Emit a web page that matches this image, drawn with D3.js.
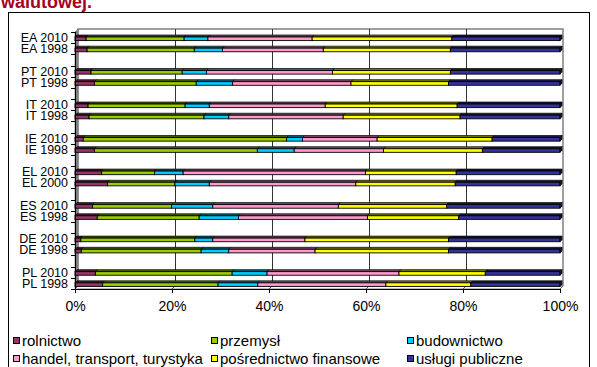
<!DOCTYPE html>
<html>
<head>
<meta charset="utf-8">
<script src="https://cdn.jsdelivr.net/npm/d3@7"></script>
<style>
  html, body { margin: 0; padding: 0; background: #fff; }
  svg { display: block; font-family: "Liberation Sans", Arial, sans-serif; }
</style>
</head>
<body>
<svg id="chart" width="597" height="367"></svg>
<script>
// Row labels, top to bottom (pairs per country)
const labels = ["EA 2010","EA 1998","PT 2010","PT 1998","IT 2010","IT 1998","IE 2010","IE 1998",
                "EL 2010","EL 2000","ES 2010","ES 1998","DE 2010","DE 1998","PL 2010","PL 1998"];

// Sector shares of value added (%)
const rolnictwo    = [2.3, 2.5, 3.3, 4.0, 2.7, 2.9, 1.7, 4.0, 5.5, 6.7, 3.6, 4.6, 1.2, 1.3, 4.2, 5.7];
const przemysl     = [20.2,22.1,18.8,21.0,20.0,23.7,41.9,33.6,10.9,13.9,16.3,21.0,23.5,24.7,28.2,23.8];
const budownictwo  = [4.9, 5.8, 5.0, 7.5, 5.0, 5.1, 3.3, 7.6, 5.9, 7.1, 8.5, 8.1, 3.7, 5.7, 7.2, 8.2];
const handel       = [21.5,20.8,26.0,24.4,23.9,23.6,15.4,18.4,37.6,30.2,25.9,26.6,19.0,17.8,27.2,26.4];
const posrednictwo = [28.8,26.2,24.3,20.1,27.2,24.1,23.7,20.4,18.7,20.5,22.3,18.8,29.6,27.5,17.8,17.5];
const uslugi       = [22.3,22.6,22.6,23.0,21.2,20.6,14.0,16.0,21.4,21.6,23.4,20.9,23.0,23.0,15.4,18.4];

const seriesNames = ["rolnictwo","przemysł","budownictwo","handel, transport, turystyka","pośrednictwo finansowe","usługi publiczne"];
const seriesValues = [rolnictwo, przemysl, budownictwo, handel, posrednictwo, uslugi];
const seriesColors = ["#993366","#99cc00","#00ccff","#ff99cc","#ffff00","#333399"];

const xTicks = [0, 0.2, 0.4, 0.6, 0.8, 1];

// Build rows for the stack layout
const rows = labels.map((lab, i) => {
  const r = { label: lab, idx: i };
  seriesNames.forEach((s, k) => r[s] = seriesValues[k][i]);
  return r;
});
const stacked = d3.stack().keys(seriesNames).offset(d3.stackOffsetExpand)(rows);

const svg = d3.select("#chart");

// Heading (partly above the visible area)
svg.append("text").attr("x", 1).attr("y", 8)
  .attr("font-size", 18).attr("font-weight", "bold").attr("fill", "#a50021")
  .text("walutowej.");

// Outer chart frame
svg.append("rect").attr("x", 8.5).attr("y", 12.5).attr("width", 581).attr("height", 400)
  .attr("fill", "none").attr("stroke", "#000").attr("stroke-width", 1);

// Plot geometry (front plane) and 3D depth
const pL = 75, pR = 560, pT = 32, pB = 289, dep = 3;

const x = d3.scaleLinear().domain([0, 1]).range([pL, pR]);
// 23 slots: two bars per country with an empty slot between countries
const slotOf = i => Math.floor(i / 2) * 3 + (i % 2);
const y = d3.scaleBand().domain(d3.range(23)).range([pT, pB]).paddingInner(0).paddingOuter(0);

// Back wall
svg.append("path")
  .attr("d", `M${pL + dep},${pB - dep}V${pT - dep}H${pR + dep}V${pB - dep}`)
  .attr("fill", "#fff").attr("stroke", "#808080").attr("stroke-width", 1.5);

// Gridlines on the back wall
svg.append("g").selectAll("line").data(xTicks.slice(1, -1)).join("line")
  .attr("x1", d => x(d) + dep + 0.5).attr("x2", d => x(d) + dep + 0.5)
  .attr("y1", pT - dep).attr("y2", pB - dep)
  .attr("stroke", "#333").attr("stroke-width", 1);

// Floor
svg.append("path")
  .attr("d", `M${pL},${pB}L${pL + dep},${pB - dep}H${pR + dep}L${pR},${pB}Z`)
  .attr("fill", "#fff").attr("stroke", "#808080").attr("stroke-width", 1);

// Left side wall
svg.append("path")
  .attr("d", `M${pL},${pT}L${pL + dep},${pT - dep}V${pB - dep}L${pL},${pB}Z`)
  .attr("fill", "#808080").attr("stroke", "#808080").attr("stroke-width", 0.8);

// Depth lines at the floor under each tick
svg.append("g").selectAll("line").data(xTicks).join("line")
  .attr("x1", d => x(d)).attr("x2", d => x(d) + dep)
  .attr("y1", pB).attr("y2", pB - dep)
  .attr("stroke", "#555").attr("stroke-width", 1);

// Bars: front face, top face and end cap
const hh = 3.6, dd = 2;
const barG = svg.append("g");
stacked.forEach((layer, k) => {
  const col = seriesColors[k];
  const g = barG.append("g");
  layer.forEach((seg, i) => {
    const cy = y(slotOf(i)) + y.bandwidth() / 2;
    const yt = cy - 0.6;
    const x0 = x(seg[0]), x1 = x(seg[1]);
    g.append("path")
      .attr("d", `M${x0},${yt}L${x0 + dd},${yt - dd}H${x1 + dd}L${x1},${yt}Z`)
      .attr("fill", d3.color(col).darker(2.2)).attr("stroke", "#000").attr("stroke-width", 0.7);
    g.append("rect")
      .attr("x", x0).attr("y", yt).attr("width", Math.max(0, x1 - x0)).attr("height", hh)
      .attr("fill", col).attr("stroke", "#000").attr("stroke-width", 0.9);
    if (k === stacked.length - 1) {
      g.append("path")
        .attr("d", `M${x1},${yt}L${x1 + dd},${yt - dd}V${yt - dd + hh}L${x1},${yt + hh}Z`)
        .attr("fill", d3.color(col).darker(2.2)).attr("stroke", "#000").attr("stroke-width", 0.7);
    }
  });
});

// Category axis (front)
svg.append("line").attr("x1", pL + 0.5).attr("x2", pL + 0.5).attr("y1", pT).attr("y2", pB)
  .attr("stroke", "#000").attr("stroke-width", 1);
svg.append("g").selectAll("line").data(d3.range(24)).join("line")
  .attr("x1", pL - 4).attr("x2", pL)
  .attr("y1", d => Math.round(pT + d * y.step()) + 0.5)
  .attr("y2", d => Math.round(pT + d * y.step()) + 0.5)
  .attr("stroke", "#000").attr("stroke-width", 1);
svg.append("g").selectAll("text").data(labels).join("text")
  .attr("x", 68).attr("y", (d, i) => y(slotOf(i)) + y.bandwidth() / 2 + 4.4)
  .attr("text-anchor", "end").attr("font-size", 12.5).attr("fill", "#000")
  .text(d => d);

// Value axis (front)
const xAxis = d3.axisBottom(x).tickValues(xTicks).tickFormat(d3.format(".0%")).tickSize(4).tickPadding(8);
const xg = svg.append("g").attr("transform", `translate(0,${pB})`).call(xAxis);
xg.select(".domain").attr("stroke", "#000");
xg.selectAll(".tick line").attr("stroke", "#000");
xg.selectAll(".tick text").attr("font-size", 14).attr("fill", "#000")
  .attr("font-family", "Liberation Sans, Arial, sans-serif");

// Legend
const legCols = [13, 211, 407], legRows = [346, 364];
const leg = svg.append("g");
seriesNames.forEach((name, k) => {
  const lx = legCols[k % 3], ly = legRows[Math.floor(k / 3)];
  leg.append("rect").attr("x", lx + 0.5).attr("y", ly - 8.5).attr("width", 6).attr("height", 6)
    .attr("fill", seriesColors[k]).attr("stroke", "#000").attr("stroke-width", 1);
  leg.append("text").attr("x", lx + 9).attr("y", ly)
    .attr("font-size", 15).attr("fill", "#000").text(name);
});
</script>
</body>
</html>
